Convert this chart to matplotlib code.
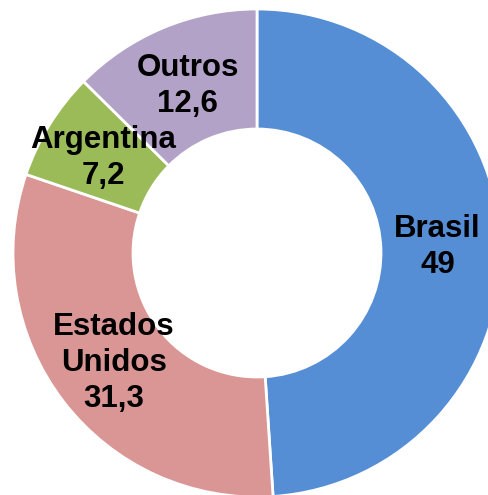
import matplotlib
matplotlib.use("Agg")
import matplotlib.pyplot as plt

paises = ["Brasil", "Estados\nUnidos", "Argentina", "Outros"]
valores = [49, 31.3, 7.2, 12.6]
rotulos = ["49", "31,3", "7,2", "12,6"]
cores = ["#558ED5", "#D99694", "#9BBB59", "#B3A2C7"]

plt.rcParams['font.family'] = ['Liberation Sans', 'DejaVu Sans']

fig = plt.figure(figsize=(4.89, 4.95), dpi=100)
ax = fig.add_axes([0, 0, 1, 1])

textos = [p + "\n" + r for p, r in zip(paises, rotulos)]
idx = iter(range(len(textos)))

wedges, _, auto = ax.pie(valores, colors=cores, startangle=90, counterclock=False,
                         center=(257, 242), radius=244,
                         wedgeprops=dict(width=120, edgecolor="white", linewidth=2),
                         autopct=lambda p: textos[next(idx)], pctdistance=0.74,
                         textprops=dict(fontsize=22.5, fontweight="bold", color="black"))
for t in auto:
    t.set_linespacing(1.25)

ax.set_xlim(0, 489)
ax.set_ylim(0, 495)
ax.set_aspect("equal")
ax.axis("off")

fig.savefig("out.png", dpi=100)
